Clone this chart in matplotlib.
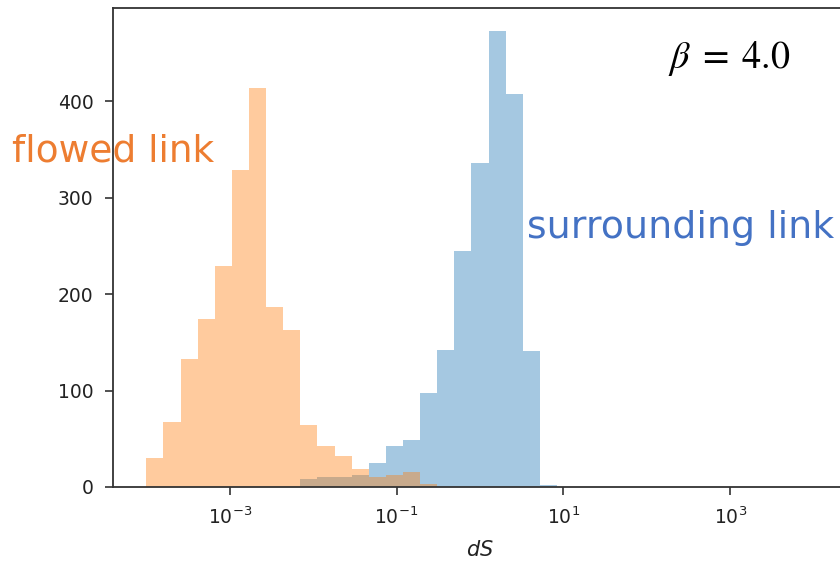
import numpy as np
import matplotlib
matplotlib.use('Agg')
import matplotlib.pyplot as plt

# log-spaced bins shared by both histograms
bin_edges = np.logspace(-4, 4, 40)

# counts per bin (39 bins), flowed link
flowed_counts = [30, 67, 133, 174, 229, 329, 414, 187, 163, 64,
                 42, 32, 19, 10, 12, 16, 3, 0, 0, 0,
                 0, 0, 0, 0, 0, 0, 0, 0, 0, 0,
                 0, 0, 0, 0, 0, 0, 0, 0, 0]

# counts per bin, surrounding link
surround_counts = [0, 0, 0, 0, 0, 0, 0, 0, 0, 8,
                   10, 10, 12, 25, 42, 49, 97, 142, 245, 336,
                   473, 407, 141, 2, 0, 0, 0, 0, 0, 0,
                   0, 0, 0, 0, 0, 0, 0, 0, 0]

y_ticks = [0, 100, 200, 300, 400]
x_ticks = [1e-3, 1e-1, 1e1, 1e3]

fig = plt.figure(figsize=(8.4, 5.66), dpi=100)
ax = fig.add_axes([0.1345, 0.1396, 0.8738, 0.8463])

ax.hist(bin_edges[:-1], bins=bin_edges, weights=surround_counts, color='C0', alpha=0.4)
ax.hist(bin_edges[:-1], bins=bin_edges, weights=flowed_counts, color='C1', alpha=0.4)

ax.set_xscale('log')
ax.set_xticks(x_ticks)
ax.xaxis.set_minor_locator(matplotlib.ticker.NullLocator())
ax.set_yticks(y_ticks)
ax.tick_params(labelsize=13.5, length=6, width=1.2, pad=8, colors='#333333', labelcolor='#222222')
for s in ax.spines.values():
    s.set_linewidth(1.3)
    s.set_color('#333333')
ax.set_xlabel('$dS$', fontsize=15, color='#222222', labelpad=9)

fig.text(0.014, 0.733, 'flowed link', color='#ED7D31', fontsize=27, va='center', ha='left')
fig.text(0.627, 0.598, 'surrounding link', color='#4472C4', fontsize=27.3, va='center', ha='left')
plt.rcParams['mathtext.fontset'] = 'stix'
fig.text(0.795, 0.897, r'$\beta\;=\;4.0$', color='black', fontsize=27.5, va='center', ha='left')

fig.savefig('out.png', dpi=100)
